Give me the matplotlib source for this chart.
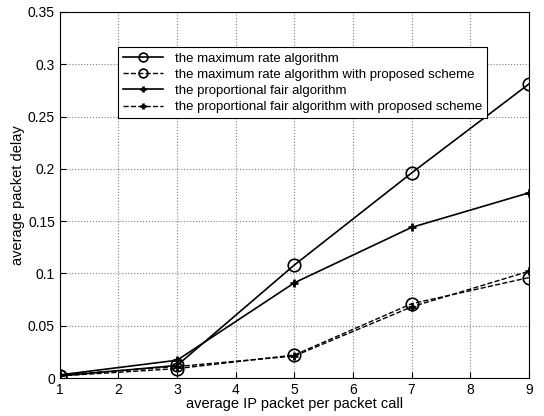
import matplotlib.pyplot as plt

plt.rcParams['font.family'] = ['Liberation Sans', 'DejaVu Sans']

# data
x = [1, 3, 5, 7, 9]
max_rate = [0.002, 0.012, 0.108, 0.196, 0.281]
max_rate_prop = [0.002, 0.009, 0.022, 0.071, 0.096]
pf = [0.003, 0.017, 0.091, 0.144, 0.177]
pf_prop = [0.003, 0.011, 0.021, 0.068, 0.102]

labels = ['the maximum rate algorithm',
          'the maximum rate algorithm with proposed scheme',
          'the proportional fair algorithm',
          'the proportional fair algorithm with proposed scheme']
yticks = [0, 0.05, 0.1, 0.15, 0.2, 0.25, 0.3, 0.35]
ytick_labels = ['0', '0.05', '0.1', '0.15', '0.2', '0.25', '0.3', '0.35']

fig = plt.figure(figsize=(5.44, 4.16), dpi=100)
ax = fig.add_axes([0.110, 0.0913, 0.862, 0.880])

ax.plot(x, max_rate, 'k-', marker='o', mfc='none', ms=9, mew=1.2, lw=1.2, label=labels[0])
ax.plot(x, max_rate_prop, 'k--', marker='o', mfc='none', ms=9, mew=1.2, lw=1.0, label=labels[1])
ax.plot(x, pf, 'k-', marker='+', ms=6, mew=2, lw=1.2, label=labels[2])
ax.plot(x, pf_prop, 'k--', marker='+', ms=6, mew=2, lw=1.0, label=labels[3])

ax.set_xlim(1, 9)
ax.set_ylim(0, 0.35)
ax.set_xticks(range(1, 10))
ax.set_yticks(yticks)
ax.set_yticklabels(ytick_labels)
ax.tick_params(direction='in', labelsize=10, length=4)
ax.grid(True, linestyle=':', color='gray', lw=0.8)

ax.set_xlabel('average IP packet per packet call', fontsize=10.5, labelpad=0)
ax.set_ylabel('average packet delay', fontsize=10.5, labelpad=2)

leg = ax.legend(loc='upper left', bbox_to_anchor=(0.124, 0.904), borderaxespad=0,
                fontsize=9.5, fancybox=False, framealpha=1, edgecolor='black',
                borderpad=0.4, labelspacing=0.3, handlelength=3, handletextpad=0.9,
                markerscale=0.7)
leg.get_frame().set_linewidth(0.8)

fig.savefig('out.png', dpi=100)
